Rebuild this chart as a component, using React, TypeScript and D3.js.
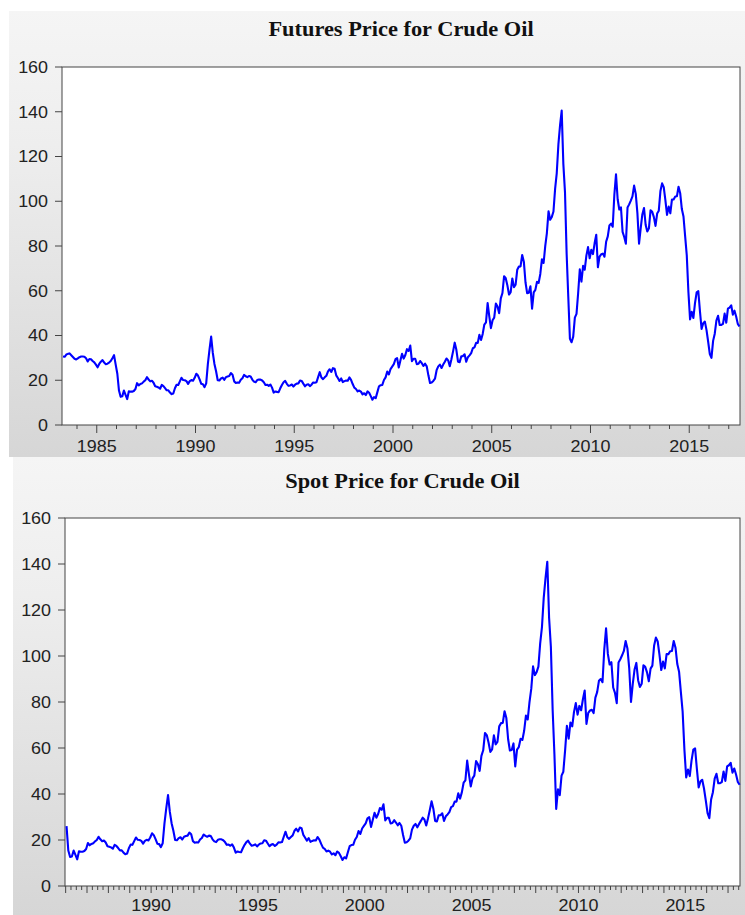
import React from 'react'
import * as d3 from 'd3'

// monthly prices (USD/bbl), futures from Apr 1983
const futuresStart = 1983 + 3 / 12
const futuresPrices = [
  30.6, 30.5, 31.5, 31.8, 32.0, 31.2, 30.4, 29.6, 29.3,
  29.8, 30.3, 30.6, 30.6, 30.5, 29.8, 28.4, 29.5, 29.4, 28.6, 28.0, 27.0,
  25.8, 27.3, 28.3, 29.0, 27.9, 27.2, 27.4, 27.9, 28.6, 29.8, 31.2, 27.0,
  22.9, 15.4, 12.6, 12.8, 15.4, 13.5, 11.6, 15.1, 14.9, 14.9, 15.2, 16.1,
  18.7, 17.7, 18.3, 18.6, 19.4, 20.0, 21.4, 20.3, 19.5, 19.8, 18.9, 17.3,
  17.1, 16.8, 16.2, 17.9, 17.4, 16.5, 15.5, 15.5, 14.5, 13.8, 14.1, 16.4,
  18.0, 17.9, 19.5, 21.1, 20.1, 20.0, 19.6, 18.4, 19.6, 20.1, 19.8, 21.1,
  22.9, 22.1, 20.4, 18.4, 18.2, 16.9, 18.6, 27.2, 33.7, 39.5, 32.3, 27.3,
  24.0, 20.0, 19.9, 20.8, 21.2, 20.2, 21.4, 21.7, 21.9, 23.2, 22.5, 19.5,
  18.8, 19.0, 18.9, 20.2, 20.9, 22.4, 21.8, 21.4, 21.9, 21.7, 20.3, 19.4,
  19.1, 20.1, 20.3, 20.3, 19.9, 19.1, 17.9, 18.0, 17.5, 18.1, 16.7, 14.5,
  15.0, 14.8, 14.7, 16.4, 17.9, 19.1, 19.7, 18.4, 17.5, 17.7, 18.1, 17.2,
  18.0, 18.5, 18.6, 19.9, 19.7, 18.5, 17.3, 18.0, 18.2, 17.4, 18.0, 19.0,
  18.9, 19.1, 21.4, 23.6, 21.2, 20.5, 21.3, 22.0, 24.0, 24.9, 23.7, 25.4,
  25.1, 22.2, 21.0, 19.7, 20.8, 19.2, 19.6, 19.9, 19.8, 21.3, 20.2, 18.3,
  16.7, 16.1, 15.0, 15.4, 14.9, 13.7, 14.2, 13.4, 15.0, 14.4, 12.9, 11.3,
  12.5, 12.0, 14.7, 17.3, 17.8, 17.9, 20.1, 21.3, 23.9, 22.6, 25.0, 26.1,
  27.2, 29.4, 29.9, 25.7, 28.8, 31.8, 29.7, 31.3, 33.9, 33.1, 35.5, 28.5,
  29.6, 29.6, 27.2, 27.4, 28.6, 27.6, 26.4, 27.4, 26.2, 22.2, 18.8, 19.0,
  19.7, 20.7, 24.5, 26.2, 27.0, 25.5, 27.0, 28.3, 29.7, 28.9, 26.3, 29.4,
  32.9, 36.8, 33.6, 28.3, 28.1, 30.7, 30.8, 31.6, 28.3, 30.3, 31.1, 32.1,
  34.3, 34.7, 36.7, 36.7, 40.3, 38.0, 40.7, 44.9, 45.9, 54.5, 48.5, 43.3,
  46.8, 48.0, 54.3, 53.0, 50.0, 56.6, 59.0, 66.5, 65.6, 62.4, 58.3, 59.4,
  65.5, 61.6, 62.7, 69.4, 70.8, 70.9, 76.0, 73.0, 63.8, 58.9, 59.1, 62.0,
  52.0, 59.3, 60.4, 64.0, 63.5, 67.5, 74.1, 72.4, 79.9, 85.8, 95.5, 91.7,
  93.0, 95.4, 105.5, 112.6, 125.4, 133.9, 140.5, 116.7, 104.1, 76.6, 57.3, 38.5,
  37.0, 39.5, 48.0, 49.7, 59.0, 69.6, 64.1, 71.1, 69.4, 75.7, 79.5, 74.5,
  78.3, 76.4, 81.2, 85.0, 70.5, 75.3, 76.3, 76.6, 75.2, 81.9, 84.3, 89.2,
  90.0, 88.6, 102.9, 112.0, 100.9, 96.3, 97.3, 86.3, 84.0, 81.0, 97.2, 98.6,
  100.3, 102.2, 107.0, 103.3, 94.7, 81.0, 87.9, 94.1, 97.0, 89.5, 86.5, 87.9,
  96.0, 95.3, 92.9, 89.0, 94.5, 95.8, 104.6, 108.0, 106.3, 100.5, 93.9, 97.6,
  94.6, 100.8, 100.8, 102.1, 102.2, 106.5, 103.6, 96.5, 93.2, 84.4, 75.8, 59.3,
  47.2, 50.6, 47.8, 54.5, 59.3, 59.8, 50.9, 42.9, 45.5, 46.2, 42.4, 37.2,
  31.7, 30.0, 37.6, 40.8, 46.7, 48.8, 44.7, 44.7, 45.2, 49.8, 45.7, 52.0,
  52.5, 53.5, 49.3, 51.1, 48.5, 45.2, 44.0,
]

// monthly spot prices from Jan 1986
const spotStart = 1986
const spotPrices = [
  26.0, 15.4, 12.6, 12.8, 15.4, 13.5, 11.6, 15.1, 14.9, 14.9, 15.2, 16.1,
  18.7, 17.7, 18.3, 18.6, 19.4, 20.0, 21.4, 20.3, 19.5, 19.8, 18.9, 17.3,
  17.1, 16.8, 16.2, 17.9, 17.4, 16.5, 15.5, 15.5, 14.5, 13.8, 14.1, 16.4,
  18.0, 17.9, 19.5, 21.1, 20.1, 20.0, 19.6, 18.4, 19.6, 20.1, 19.8, 21.1,
  22.9, 22.1, 20.4, 18.4, 18.2, 16.9, 18.6, 27.2, 33.7, 39.5, 32.3, 27.3,
  24.0, 20.0, 19.9, 20.8, 21.2, 20.2, 21.4, 21.7, 21.9, 23.2, 22.5, 19.5,
  18.8, 19.0, 18.9, 20.2, 20.9, 22.4, 21.8, 21.4, 21.9, 21.7, 20.3, 19.4,
  19.1, 20.1, 20.3, 20.3, 19.9, 19.1, 17.9, 18.0, 17.5, 18.1, 16.7, 14.5,
  15.0, 14.8, 14.7, 16.4, 17.9, 19.1, 19.7, 18.4, 17.5, 17.7, 18.1, 17.2,
  18.0, 18.5, 18.6, 19.9, 19.7, 18.5, 17.3, 18.0, 18.2, 17.4, 18.0, 19.0,
  18.9, 19.1, 21.4, 23.6, 21.2, 20.5, 21.3, 22.0, 24.0, 24.9, 23.7, 25.4,
  25.1, 22.2, 21.0, 19.7, 20.8, 19.2, 19.6, 19.9, 19.8, 21.3, 20.2, 18.3,
  16.7, 16.1, 15.0, 15.4, 14.9, 13.7, 14.2, 13.4, 15.0, 14.4, 12.9, 11.3,
  12.5, 12.0, 14.7, 17.3, 17.8, 17.9, 20.1, 21.3, 23.9, 22.6, 25.0, 26.1,
  27.2, 29.4, 29.9, 25.7, 28.8, 31.8, 29.7, 31.3, 33.9, 33.1, 35.5, 28.5,
  29.6, 29.6, 27.2, 27.4, 28.6, 27.6, 26.4, 27.4, 26.2, 22.2, 18.8, 19.0,
  19.7, 20.7, 24.5, 26.2, 27.0, 25.5, 27.0, 28.3, 29.7, 28.9, 26.3, 29.4,
  32.9, 36.8, 33.6, 28.3, 28.1, 30.7, 30.8, 31.6, 28.3, 30.3, 31.1, 32.1,
  34.3, 34.7, 36.7, 36.7, 40.3, 38.0, 40.7, 44.9, 45.9, 54.5, 48.5, 43.3,
  46.8, 48.0, 54.3, 53.0, 50.0, 56.6, 59.0, 66.5, 65.6, 62.4, 58.3, 59.4,
  65.5, 61.6, 62.7, 69.4, 70.8, 70.9, 76.0, 73.0, 63.8, 58.9, 59.1, 62.0,
  52.0, 59.3, 60.4, 64.0, 63.5, 67.5, 74.1, 72.4, 79.9, 85.8, 95.5, 91.7,
  93.0, 95.4, 105.5, 112.6, 125.4, 133.9, 141.0, 116.7, 104.1, 76.6, 57.3, 33.5,
  42.0, 39.5, 48.0, 49.7, 59.0, 69.6, 64.1, 71.1, 69.4, 75.7, 79.5, 74.5,
  78.3, 76.4, 81.2, 85.0, 70.5, 75.3, 76.3, 76.6, 75.2, 81.9, 84.3, 89.2,
  90.0, 88.6, 102.9, 112.0, 100.9, 96.3, 97.3, 86.3, 84.0, 79.5, 97.2, 98.6,
  100.3, 102.2, 106.5, 103.3, 94.7, 80.0, 87.9, 94.1, 97.0, 89.5, 86.5, 87.9,
  96.0, 95.3, 92.9, 89.0, 94.5, 95.8, 104.6, 108.0, 106.3, 100.5, 93.9, 97.6,
  94.6, 100.8, 100.8, 102.1, 102.2, 106.5, 103.6, 96.5, 93.2, 84.4, 75.8, 59.3,
  47.2, 50.6, 47.8, 54.5, 59.3, 59.8, 50.9, 42.9, 45.5, 46.2, 42.4, 37.2,
  31.7, 29.5, 37.6, 40.8, 46.7, 48.8, 44.7, 44.7, 45.2, 49.8, 45.7, 52.0,
  52.5, 53.5, 49.3, 51.1, 48.5, 45.2, 44.0,
]

const yTicks = [0, 20, 40, 60, 80, 100, 120, 140, 160]

// the source image is slightly stretched sideways, text included
const stretch = 1.12

type Panel = {
  title: string
  start: number
  prices: number[]
  box: [number, number, number, number] // panel x, y, w, h
  plot: [number, number, number, number] // left, top, right, bottom
  domain: [number, number]
  minorStep: number
  titleY: number
  labelY: number
}

const panels: Panel[] = [
  {
    title: 'Futures Price for Crude Oil',
    start: futuresStart,
    prices: futuresPrices,
    box: [9, 11, 736, 446],
    plot: [62, 67, 740, 425],
    domain: [1983.24, 2017.57],
    minorStep: 1,
    titleY: 36,
    labelY: 452,
  },
  {
    title: 'Spot Price for Crude Oil',
    start: spotStart,
    prices: spotPrices,
    box: [13, 457, 732, 458],
    plot: [65, 518, 740, 886],
    domain: [1985.97, 2017.56],
    minorStep: 0.25,
    titleY: 488,
    labelY: 910.5,
  },
]

const sans = "'Liberation Sans', Arial, sans-serif"

const ChartPanel = ({ p }: { p: Panel }) => {
  const [l, t, r, b] = p.plot
  const x = d3.scaleLinear().domain(p.domain).range([l, r])
  const y = d3.scaleLinear().domain([0, 160]).range([b, t])
  const line = d3.line<number>()
    .x((_, i) => x(p.start + (i + 0.5) / 12))
    .y(d => y(d))

  const minor = d3.range(Math.ceil(p.domain[0] / p.minorStep) * p.minorStep, p.domain[1], p.minorStep)
  const labels = d3.range(1985, 2020, 5).filter(v => v > p.domain[0] && v < p.domain[1])

  return (
    <g>
      <rect x={p.box[0]} y={p.box[1]} width={p.box[2]} height={p.box[3]} fill="url(#panelBg)" />
      <text transform={`translate(${(l + r) / 2},${p.titleY}) scale(${stretch},1)`} textAnchor="middle"
        fontFamily="'Liberation Serif', 'Times New Roman', serif" fontWeight="bold" fontSize={20} fill="#111">
        {p.title}
      </text>
      <rect x={l} y={t} width={r - l} height={b - t} fill="#fff" stroke="#444" strokeWidth={1} />
      <path d={line(p.prices) ?? ''} fill="none" stroke="#0000ff" strokeWidth={2.1} strokeLinejoin="round" />
      {yTicks.map(v => (
        <g key={v}>
          <line x1={l - 7} x2={l} y1={y(v)} y2={y(v)} stroke="#444" />
          <text transform={`translate(${l - 14},${y(v)}) scale(${stretch},1)`} dy="0.36em" textAnchor="end"
            fontFamily={sans} fontSize={16} fill="#222">{v}</text>
        </g>
      ))}
      {minor.map(v => {
        const isYear = Math.abs(v - Math.round(v)) < 1e-6
        const len = p.minorStep === 1 ? (Math.round(v) % 5 === 0 ? 8 : 4) : (isYear ? 7 : 4)
        return <line key={v} x1={x(v)} x2={x(v)} y1={b} y2={b + len} stroke="#444" />
      })}
      {labels.map(v => (
        <text key={v} transform={`translate(${x(v)},${p.labelY}) scale(${stretch},1)`} textAnchor="middle"
          fontFamily={sans} fontSize={16} fill="#222">{v}</text>
      ))}
    </g>
  )
}

const App = () => {
  return (
    <svg width={745} height={915} style={{ position: 'absolute', left: 0, top: 0, background: '#fff' }}>
      <defs>
        <linearGradient id="panelBg" x1="0" y1="0" x2="0" y2="1">
          <stop offset="0" stopColor="#f5f5f5" />
          <stop offset="0.3" stopColor="#eeeeee" />
          <stop offset="1" stopColor="#d6d6d6" />
        </linearGradient>
      </defs>
      {panels.map(p => <ChartPanel key={p.title} p={p} />)}
    </svg>
  )
}

export default App
